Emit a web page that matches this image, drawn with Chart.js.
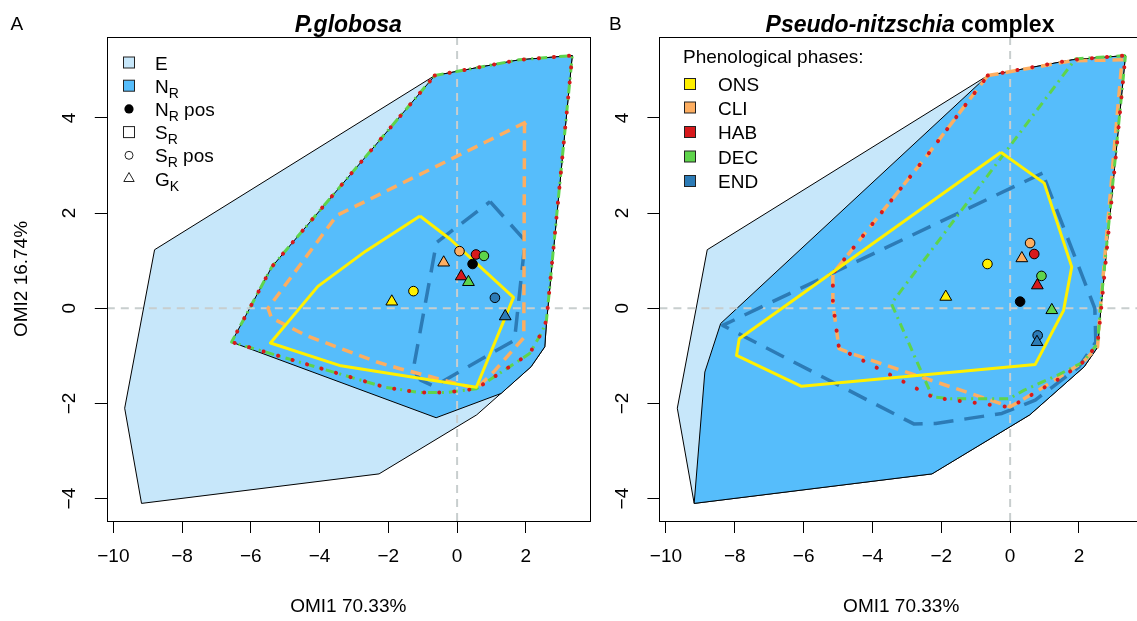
<!DOCTYPE html>
<html lang="en">
<head>
<meta charset="UTF-8">
<title>OMI niches</title>
<script src="https://cdn.jsdelivr.net/npm/chart.js@4.4.0/dist/chart.umd.min.js"></script>
<style>
  html, body { margin: 0; padding: 0; background: #fff; overflow: hidden; }
  #wrap { position: relative; width: 1137px; height: 621px; overflow: hidden; }
  .panel { position: absolute; top: 0; width: 600px; height: 621px; }
</style>
</head>
<body>
<div id="wrap">
  <div class="panel" style="left:0"><canvas id="chartA" width="600" height="621"></canvas></div>
  <div class="panel" style="left:560px"><canvas id="chartB" width="600" height="621"></canvas></div>
</div>

<script>
'use strict';

// axes (same for both panels)
const xRange = [-10.19, 3.86];
const yRange = [-4.47, 5.70];
const xTicks = [-10, -8, -6, -4, -2, 0, 2];
const yTicks = [-4, -2, 0, 2, 4];

const phases = ['ONS', 'CLI', 'HAB', 'DEC', 'END'];

// E : environmental space (same hull in both panels)
const envHull = [[-8.8, 1.23], [-0.65, 4.89], [1.8, 5.22], [3.35, 5.31], [2.6, -0.3], [2.55, -0.81],
  [2.15, -1.23], [0.57, -2.24], [-2.27, -3.48], [-9.18, -4.1], [-9.67, -2.1]];

// ---- panel A : P.globosa ----
const nicheA = [[-0.65, 4.89], [1.8, 5.22], [3.35, 5.31], [2.6, -0.3], [2.55, -0.81], [2.15, -1.23],
  [1.28, -1.79], [-0.61, -2.3], [-6.56, -0.71], [-5.39, 0.87]];
const onsA = [[-1.08, 1.94], [-0.2, 1.45], [1.64, 0.23], [0.56, -1.66], [-3.38, -1.21], [-5.43, -0.73],
  [-4.05, 0.46], [-2.66, 1.2]];
const cliA = [[2.0, 3.91], [-3.5, 1.95], [-5.5, 0.0], [-5.4, -0.2], [-4.4, -0.57], [-2.33, -1.13],
  [-1.66, -1.27], [0.56, -1.69], [1.06, -1.34], [1.94, -0.62], [1.96, 3.85]];
const habA = [[-0.65, 4.89], [1.8, 5.22], [3.35, 5.31], [2.6, -0.25], [2.47, -0.5], [2.11, -0.95],
  [0.56, -1.69], [-0.3, -1.77], [-1.1, -1.77], [-2.1, -1.66], [-6.56, -0.71], [-5.39, 0.87]];
const decA = [[-0.65, 4.89], [1.8, 5.22], [3.35, 5.31], [2.6, -0.25], [2.47, -0.5], [2.11, -0.95],
  [0.56, -1.69], [-0.3, -1.77], [-1.1, -1.77], [-2.1, -1.66], [-6.56, -0.71], [-5.39, 0.87]];
const endA = [[0.96, 2.24], [1.98, 1.42], [1.67, -0.67], [-0.67, -1.64], [-1.06, -1.51], [-1.28, -1.3],
  [-0.6, 1.38]];
// S_R positions (circles) and G_K (triangles), in phase order
const srPosA = [[-1.27, 0.36], [0.07, 1.2], [0.55, 1.13], [0.78, 1.1], [1.10, 0.22]];
const gkA = [[-1.9, 0.14], [-0.39, 0.96], [0.12, 0.67], [0.33, 0.55], [1.40, -0.17]];
const nrPosA = [[0.45, 0.93]];

// ---- panel B : Pseudo-nitzschia complex ----
const nicheB = [[-0.65, 4.89], [1.8, 5.22], [3.35, 5.31], [2.6, -0.3], [2.55, -0.81], [2.15, -1.23],
  [0.57, -2.24], [-2.27, -3.48], [-9.18, -4.1], [-8.87, -1.34], [-8.41, -0.32]];
const onsB = [[-0.27, 3.28], [0.99, 2.63], [1.79, 0.87], [1.55, -0.05], [0.73, -1.18], [-6.06, -1.64],
  [-7.95, -0.99], [-7.87, -0.64]];
const cliB = [[-0.65, 4.89], [1.8, 5.2], [3.25, 5.22], [2.62, 0.0], [2.54, -0.81], [2.12, -1.13],
  [0.83, -1.72], [0.0, -2.07], [-4.62, -0.95], [-4.97, -0.85], [-5.15, 0.1], [-5.15, 0.73],
  [-3.76, 1.99], [-2.37, 3.25]];
const habB = [[-0.65, 4.89], [1.8, 5.22], [3.35, 5.31], [2.62, -0.2], [2.54, -0.75], [2.12, -1.13],
  [1.53, -1.44], [0.0, -2.08], [-1.76, -1.92], [-2.21, -1.88], [-4.56, -0.99], [-4.97, -0.85],
  [-5.15, 0.1], [-5.15, 0.73], [-3.76, 1.99], [-2.37, 3.25]];
const decB = [[3.35, 5.31], [1.9, 5.24], [-3.45, 0.1], [-2.26, -1.86], [-1.73, -1.9], [-0.02, -1.9],
  [0.41, -1.72], [1.37, -1.41], [2.12, -1.13], [2.54, -0.74], [2.65, 0.2]];
const endB = [[0.94, 2.84], [-8.35, -0.36], [-2.8, -2.43], [-2.16, -2.42], [-0.24, -2.21], [0.73, -1.93],
  [2.0, -1.23], [2.49, -0.71], [2.46, 0.0]];
const srPosB = [[-0.66, 0.93], [0.58, 1.37], [0.70, 1.14], [0.91, 0.68], [0.80, -0.57]];
const gkB = [[-1.87, 0.24], [0.34, 1.05], [0.79, 0.48], [1.21, -0.04], [0.78, -0.71]];
const nrPosB = [[0.29, 0.14]];

// styles
const FONT = "'Liberation Sans', Arial, Helvetica, sans-serif";
const envFill = '#C7E7FA';
const nicheFill = '#56BDFB';
const zeroColor = '#C8CECE';
const phaseColor = ['#FFF000', '#FDAE61', '#D7191C', '#5ED44B', '#2C7BB6'];
const phaseLine = [
  { borderWidth: 3, borderDash: [] },
  { borderWidth: 3.5, borderDash: [11, 7] },
  { borderWidth: 4, borderDash: [0.1, 15], borderCapStyle: 'round' },
  { borderWidth: 3, borderDash: [9, 5, 2, 5] },
  { borderWidth: 3.5, borderDash: [20, 11] }
];
const phaseOrder = [1, 4, 2, 3, 5];

Chart.defaults.font.family = FONT;
Chart.defaults.font.size = 19;
Chart.defaults.color = '#000';

function xy(pts) { return pts.map(p => ({ x: p[0], y: p[1] })); }
function closed(pts) { return xy(pts.concat([pts[0]])); }

function buildDatasets(p) {
  const ds = [];
  ds.push({ type: 'line', data: closed(envHull), fill: 'shape', backgroundColor: envFill,
    borderColor: '#000', borderWidth: 1, pointRadius: 0, tension: 0, order: 9 });
  ds.push({ type: 'line', data: closed(p.niche), fill: 'shape', backgroundColor: nicheFill,
    borderColor: '#000', borderWidth: 1, pointRadius: 0, tension: 0, order: 8 });
  // zero reference lines
  ds.push({ type: 'line', data: [{ x: xRange[0], y: 0 }, { x: xRange[1], y: 0 }], borderColor: zeroColor,
    borderWidth: 2, borderDash: [8, 6], pointRadius: 0, fill: false, order: 7 });
  ds.push({ type: 'line', data: [{ x: 0, y: yRange[0] }, { x: 0, y: yRange[1] }], borderColor: zeroColor,
    borderWidth: 2, borderDash: [8, 6], pointRadius: 0, fill: false, order: 7 });
  p.hulls.forEach((h, i) => {
    ds.push(Object.assign({ type: 'line', label: phases[i], data: closed(h), fill: false,
      borderColor: phaseColor[i], pointRadius: 0, tension: 0, borderJoinStyle: 'round',
      order: phaseOrder[i] }, phaseLine[i]));
  });
  ds.push({ type: 'scatter', label: 'G_K', data: xy(p.gk), pointStyle: 'triangle', pointRadius: 6.8,
    pointBackgroundColor: phaseColor, pointBorderColor: '#000', pointBorderWidth: 1, order: 0 });
  ds.push({ type: 'scatter', label: 'S_R pos', data: xy(p.srPos), pointStyle: 'circle', pointRadius: 4.8,
    pointBackgroundColor: phaseColor, pointBorderColor: '#000', pointBorderWidth: 1, order: 0.5 });
  ds.push({ type: 'scatter', label: 'N_R pos', data: xy(p.nrPos), pointStyle: 'circle', pointRadius: 4.8,
    pointBackgroundColor: '#000', pointBorderColor: '#000', pointBorderWidth: 1, order: 0.6 });
  return ds;
}

// frame + titles + legends
const decorPlugin = {
  id: 'decor',
  afterDraw(chart, args, opts) {
    const { ctx, chartArea: a } = chart;
    ctx.save();
    ctx.strokeStyle = '#000';
    ctx.lineWidth = 1;
    ctx.strokeRect(Math.round(a.left) + 0.5, Math.round(a.top) + 0.5,
      Math.round(a.right - a.left), Math.round(a.bottom - a.top));
    ctx.fillStyle = '#000';
    ctx.textBaseline = 'alphabetic';
    opts.draw(ctx);
    ctx.restore();
  }
};

function subLabel(ctx, x, y, main, sub, tail) {
  ctx.textAlign = 'left';
  ctx.font = '19px ' + FONT;
  ctx.fillText(main, x, y);
  let cx = x + ctx.measureText(main).width;
  if (sub) {
    ctx.font = '14px ' + FONT;
    ctx.fillText(sub, cx, y + 5);
    cx += ctx.measureText(sub).width;
  }
  if (tail) {
    ctx.font = '19px ' + FONT;
    ctx.fillText(tail, cx, y);
  }
}

function square(ctx, cx, cy, fill) {
  if (fill) { ctx.fillStyle = fill; ctx.fillRect(cx - 5.5, cy - 5.5, 11, 11); }
  ctx.strokeStyle = '#222';
  ctx.lineWidth = 1;
  ctx.strokeRect(cx - 5.5, cy - 5.5, 11, 11);
  ctx.fillStyle = '#000';
}

function decorateA(ctx) {
  ctx.font = 'italic bold 23px ' + FONT;
  ctx.textAlign = 'center';
  ctx.fillText('P.globosa', 348.3, 32);
  ctx.font = '19px ' + FONT;
  ctx.textAlign = 'left';
  ctx.fillText('A', 10.5, 29.5);

  const sx = 129, tx = 155;
  const rows = [62.5, 85.7, 108.9, 132.1, 155.3, 178.5];
  square(ctx, sx, rows[0], envFill);
  subLabel(ctx, tx, rows[0] + 7, 'E');
  square(ctx, sx, rows[1], nicheFill);
  subLabel(ctx, tx, rows[1] + 7, 'N', 'R');
  ctx.beginPath(); ctx.arc(sx, rows[2], 4.6, 0, Math.PI * 2); ctx.fill();
  subLabel(ctx, tx, rows[2] + 7, 'N', 'R', ' pos');
  square(ctx, sx, rows[3], null);
  subLabel(ctx, tx, rows[3] + 7, 'S', 'R');
  ctx.beginPath(); ctx.arc(sx, rows[4], 4, 0, Math.PI * 2); ctx.stroke();
  subLabel(ctx, tx, rows[4] + 7, 'S', 'R', ' pos');
  ctx.beginPath();
  ctx.moveTo(sx, rows[5] - 6); ctx.lineTo(sx + 5.2, rows[5] + 3); ctx.lineTo(sx - 5.2, rows[5] + 3);
  ctx.closePath(); ctx.stroke();
  subLabel(ctx, tx, rows[5] + 7, 'G', 'K');
}

function decorateB(ctx) {
  const p1 = 'Pseudo-nitzschia', p2 = ' complex';
  ctx.font = 'italic bold 23px ' + FONT;
  const w1 = ctx.measureText(p1).width;
  ctx.font = 'bold 23px ' + FONT;
  const w2 = ctx.measureText(p2).width;
  const x0 = 350 - (w1 + w2) / 2;
  ctx.textAlign = 'left';
  ctx.font = 'italic bold 23px ' + FONT;
  ctx.fillText(p1, x0, 32);
  ctx.font = 'bold 23px ' + FONT;
  ctx.fillText(p2, x0 + w1, 32);
  ctx.font = '19px ' + FONT;
  ctx.fillText('B', 49, 29.5);

  ctx.fillText('Phenological phases:', 123, 62.5);
  const sx = 130, tx = 158;
  const rows = [84, 107.5, 132, 156.5, 181];
  phases.forEach((ph, i) => {
    square(ctx, sx, rows[i], phaseColor[i]);
    subLabel(ctx, tx, rows[i] + 7, ph);
  });
}

function makeChart(id, p) {
  return new Chart(document.getElementById(id), {
    type: 'scatter',
    data: { datasets: buildDatasets(p) },
    options: {
      responsive: false,
      animation: false,
      events: [],
      layout: { padding: { left: 0, right: p.padRight, top: 37, bottom: 0 } },
      plugins: {
        legend: { display: false },
        tooltip: { enabled: false },
        decor: { draw: p.decorate }
      },
      scales: {
        x: {
          type: 'linear', min: xRange[0], max: xRange[1],
          afterBuildTicks: s => { s.ticks = xTicks.map(v => ({ value: v })); },
          afterFit: s => { s.height = 100; },
          grid: { drawOnChartArea: false, drawTicks: true, tickLength: 12, tickColor: '#000', tickWidth: 1 },
          border: { display: false },
          ticks: {
            padding: 12, maxRotation: 0, autoSkip: false,
            callback: v => (v < 0 ? '\u2212' + Math.abs(v) : String(v))
          },
          title: { display: true, text: 'OMI1 70.33%', padding: { top: 0, bottom: 3 } }
        },
        y: {
          type: 'linear', min: yRange[0], max: yRange[1],
          afterBuildTicks: s => { s.ticks = yTicks.map(v => ({ value: v })); },
          afterFit: s => { s.width = p.yWidth; },
          grid: { drawOnChartArea: false, drawTicks: true, tickLength: 12, tickColor: '#000', tickWidth: 1 },
          border: { display: false },
          ticks: {
            padding: 14, minRotation: 90, maxRotation: 90, crossAlign: 'center', autoSkip: false,
            callback: v => (v < 0 ? '\u2212' + Math.abs(v) : String(v))
          },
          title: { display: p.yTitle, text: 'OMI2 16.74%', padding: { top: 10, bottom: 0 } }
        }
      }
    },
    plugins: [decorPlugin]
  });
}

makeChart('chartA', {
  niche: nicheA, hulls: [onsA, cliA, habA, decA, endA], srPos: srPosA, gk: gkA, nrPos: nrPosA,
  yWidth: 106.8, padRight: 10.2, yTitle: true, decorate: decorateA
});
makeChart('chartB', {
  niche: nicheB, hulls: [onsB, cliB, habB, decB, endB], srPos: srPosB, gk: gkB, nrPos: nrPosB,
  yWidth: 99.4, padRight: 17, yTitle: false, decorate: decorateB
});
</script>
</body>
</html>
